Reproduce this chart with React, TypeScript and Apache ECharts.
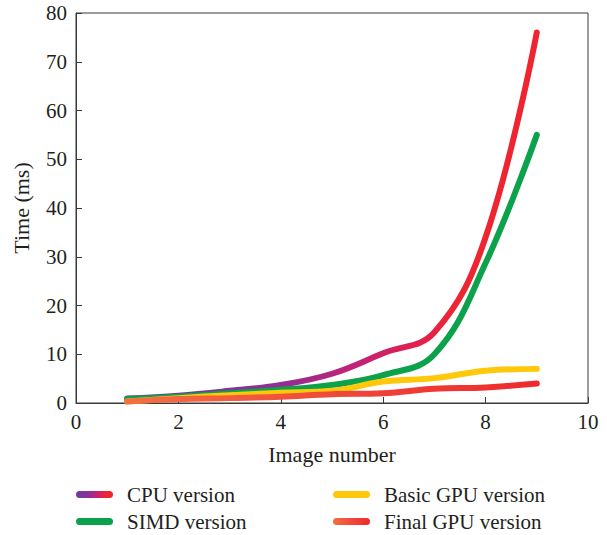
import React, { useEffect, useRef } from "react";
import * as echarts from "echarts";

const imageNumbers = [1, 2, 3, 4, 5, 6, 7, 8, 9];
const cpuValues = [0.9, 1.5, 2.5, 3.7, 6.0, 10.2, 14.5, 34, 76];
const simdValues = [0.8, 1.3, 2.0, 2.7, 3.7, 5.7, 10.0, 28.7, 55];
const basicGpuValues = [0.3, 1.0, 1.6, 2.1, 2.5, 4.4, 5.1, 6.6, 7.0];
const finalGpuValues = [0.3, 0.8, 1.0, 1.3, 1.8, 2.0, 2.9, 3.2, 4.0];
const seriesNames = ["CPU version", "SIMD version", "Basic GPU version", "Final GPU version"];

const FONT = "Liberation Serif";

const pair = (vals: number[]) => imageNumbers.map((x, i) => [x, vals[i]]);

export default function App() {
  const ref = useRef<HTMLDivElement>(null);
  useEffect(() => {
    if (!ref.current) return;
    const chart = echarts.init(ref.current, undefined, { renderer: "svg" });
    const cpuGrad = new echarts.graphic.LinearGradient(0, 0, 1, 0, [
      { offset: 0, color: "#6c3d9e" },
      { offset: 0.35, color: "#8e2f95" },
      { offset: 0.55, color: "#c02378" },
      { offset: 0.7, color: "#e0204f" },
      { offset: 0.8, color: "#ee2532" },
      { offset: 1, color: "#ee2530" },
    ]);
    const finalGrad = new echarts.graphic.LinearGradient(0, 0, 1, 0, [
      { offset: 0, color: "#f37043" },
      { offset: 0.5, color: "#f0483a" },
      { offset: 1, color: "#ee2a2c" },
    ]);
    const simdColor = "#0ba24b";
    const yellow = "#ffc80a";
    const mk = (name: string, vals: number[], color: any) => ({
      name,
      type: "line",
      data: pair(vals),
      smooth: 0.4,
      showSymbol: false,
      symbol: "none",
      lineStyle: { width: 6, color, cap: "round", join: "round" },
      itemStyle: { color },
    });
    const capsule =
      "path://M3.5,0 L33.5,0 A3.5,3.5 0 0 1 33.5,7 L3.5,7 A3.5,3.5 0 0 1 3.5,0 Z";
    const legendBase = {
      orient: "vertical",
      top: 484,
      height: 60,
      itemWidth: 37,
      itemHeight: 7,
      itemGap: 6,
      padding: 0,
      icon: capsule,
      textStyle: { fontFamily: FONT, fontSize: 21, color: "#231f20", padding: [0, 0, 0, 9] },
    };
    chart.setOption({
      animation: false,
      backgroundColor: "#ffffff",
      grid: {
        left: 76,
        top: 13,
        right: 19,
        bottom: 132,
        show: true,
        borderColor: "#3a3a3a",
        borderWidth: 1,
        containLabel: false,
      },
      legend: [
        { ...legendBase, left: 76, data: [seriesNames[0], seriesNames[1]] },
        { ...legendBase, left: 333, data: [seriesNames[2], seriesNames[3]] },
      ],
      xAxis: {
        type: "value",
        min: 0,
        max: 10,
        interval: 2,
        name: "Image number",
        nameLocation: "middle",
        nameGap: 40,
        nameTextStyle: { fontFamily: FONT, fontSize: 22, color: "#231f20" },
        axisLine: { lineStyle: { color: "#3a3a3a", width: 1 } },
        axisTick: { inside: true, length: 6, lineStyle: { color: "#3a3a3a" } },
        axisLabel: { fontFamily: FONT, fontSize: 21, color: "#231f20", margin: 8 },
        splitLine: { show: false },
      },
      yAxis: {
        type: "value",
        min: 0,
        max: 80,
        interval: 10,
        name: "Time (ms)",
        nameLocation: "middle",
        nameGap: 44,
        nameTextStyle: { fontFamily: FONT, fontSize: 22, color: "#231f20" },
        axisLine: { lineStyle: { color: "#3a3a3a", width: 1 } },
        axisTick: { inside: true, length: 6, lineStyle: { color: "#3a3a3a" } },
        axisLabel: { fontFamily: FONT, fontSize: 21, color: "#231f20", margin: 9 },
        splitLine: { show: false },
      },
      series: [
        mk(seriesNames[0], cpuValues, cpuGrad),
        mk(seriesNames[1], simdValues, simdColor),
        mk(seriesNames[2], basicGpuValues, yellow),
        mk(seriesNames[3], finalGpuValues, finalGrad),
      ],
    });
    return () => chart.dispose();
  }, []);
  return <div ref={ref} style={{ width: 607, height: 535, position: "absolute", left: 0, top: 0 }} />;
}
